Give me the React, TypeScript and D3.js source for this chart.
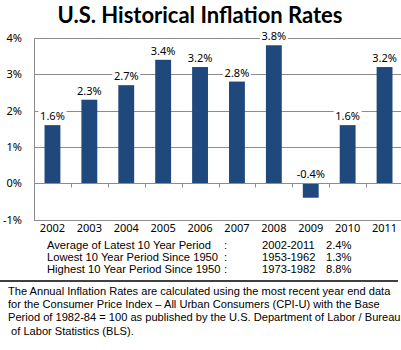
import React, { useEffect, useRef } from 'react';
import * as d3 from 'd3';

const years = ['2002', '2003', '2004', '2005', '2006', '2007', '2008', '2009', '2010', '2011'];
const rates = [1.6, 2.3, 2.7, 3.4, 3.2, 2.8, 3.8, -0.4, 1.6, 3.2];
const yTicks = [-1, 0, 1, 2, 3, 4];

const statLabels = [
  'Average of Latest 10 Year Period',
  'Lowest 10 Year Period Since 1950',
  'Highest 10 Year Period Since 1950',
];
const statPeriods = ['2002-2011', '1953-1962', '1973-1982'];
const statValues = ['2.4%', '1.3%', '8.8%'];

const footerLines = [
  'The Annual Inflation Rates are calculated using the most recent year end data',
  'for the Consumer Price Index \u2013 All Urban Consumers (CPI-U) with the Base',
  'Period of 1982-84 = 100 as published by the U.S. Department of Labor / Bureau',
  ' of Labor Statistics (BLS).',
];

const App = () => {
  const svgRef = useRef<SVGSVGElement>(null);

  useEffect(() => {
    const svg = d3.select(svgRef.current);
    svg.selectAll('*').remove();

    const width = 401;
    const height = 350;
    const left = 34;
    const right = 403;
    const top = 38;
    const bottom = 219.5;
    const barColor = '#1F497D';
    const gridColor = '#8c8c8c';
    const tickFont = '"Noto Sans", "DejaVu Sans", sans-serif';
    const arial = '"Liberation Sans", Arial, sans-serif';

    svg.append('rect').attr('width', width).attr('height', height).attr('fill', '#fff');

    // title
    svg.append('text')
      .attr('x', 200)
      .attr('y', 23)
      .attr('text-anchor', 'middle')
      .style('font-family', 'Lato, "Open Sans", sans-serif')
      .style('font-weight', 'bold')
      .style('font-size', '22px')
      .attr('fill', '#000')
      .text('U.S. Historical Inflation Rates');

    const x = d3.scaleBand<string>()
      .domain(years)
      .range([left, right])
      .paddingInner(0.57)
      .paddingOuter(0.285);

    const y = d3.scaleLinear().domain([-1, 4]).range([bottom, top]);

    // gridlines
    svg.append('g')
      .selectAll('line')
      .data(yTicks.filter(t => t !== 0))
      .enter().append('line')
      .attr('x1', left)
      .attr('x2', width)
      .attr('y1', d => Math.round(y(d)) + 0.5)
      .attr('y2', d => Math.round(y(d)) + 0.5)
      .attr('stroke', gridColor)
      .attr('stroke-width', 1);

    // y axis labels
    svg.append('g')
      .selectAll('text')
      .data(yTicks)
      .enter().append('text')
      .attr('x', 22)
      .attr('y', d => y(d) + 4)
      .attr('text-anchor', 'end')
      .style('font-family', tickFont)
      .style('font-size', '11px')
      .attr('fill', '#000')
      .text(d => `${d}%`);

    // bars
    svg.append('g')
      .selectAll('rect')
      .data(rates)
      .enter().append('rect')
      .attr('x', (d, i) => x(years[i])!)
      .attr('y', d => y(Math.max(0, d)))
      .attr('width', x.bandwidth())
      .attr('height', d => Math.abs(y(d) - y(0)))
      .attr('fill', barColor);

    // y axis line
    svg.append('line')
      .attr('x1', left + 0.5).attr('x2', left + 0.5)
      .attr('y1', top).attr('y2', Math.round(bottom) + 0.5)
      .attr('stroke', gridColor);

    // zero axis with ticks
    const y0 = Math.round(y(0)) + 0.5;
    svg.append('line')
      .attr('x1', left).attr('x2', width)
      .attr('y1', y0).attr('y2', y0)
      .attr('stroke', gridColor);
    const step = x.step();
    svg.append('g')
      .selectAll('line')
      .data(years.slice(1))
      .enter().append('line')
      .attr('x1', (d, i) => Math.round(left + step * (i + 1)) + 0.5)
      .attr('x2', (d, i) => Math.round(left + step * (i + 1)) + 0.5)
      .attr('y1', y0)
      .attr('y2', y0 + 4)
      .attr('stroke', gridColor);

    // data labels
    const labels = svg.append('g')
      .selectAll('g')
      .data(rates)
      .enter().append('g')
      .attr('transform', (d, i) =>
        `translate(${x(years[i])! + x.bandwidth() / 2},${y(Math.max(0, d)) - 5})`);
    labels.append('rect')
      .attr('x', -14)
      .attr('y', -10)
      .attr('width', 28)
      .attr('height', 13)
      .attr('fill', '#fff');
    labels.append('text')
      .attr('text-anchor', 'middle')
      .style('font-family', tickFont)
      .style('font-size', '11px')
      .attr('fill', '#000')
      .text(d => `${d.toFixed(1)}%`);

    // category labels
    svg.append('g')
      .selectAll('text')
      .data(years)
      .enter().append('text')
      .attr('x', d => x(d)! + x.bandwidth() / 2)
      .attr('y', 232)
      .attr('text-anchor', 'middle')
      .style('font-family', tickFont)
      .style('font-size', '11px')
      .attr('fill', '#000')
      .text(d => d);

    // stats table
    const rows = svg.append('g')
      .selectAll('g')
      .data(statLabels)
      .enter().append('g')
      .attr('transform', (d, i) => `translate(0,${249 + i * 12})`)
      .style('font-family', arial)
      .style('font-size', '11.2px')
      .attr('fill', '#000');
    rows.append('text').attr('x', 47).text(d => d);
    rows.append('text').attr('x', 224).text(':');
    rows.append('text').attr('x', 262).text((d, i) => statPeriods[i]);
    rows.append('text').attr('x', 326).text((d, i) => statValues[i]);

    // separator
    svg.append('line')
      .attr('x1', 0).attr('x2', 398)
      .attr('y1', 281).attr('y2', 281)
      .attr('stroke', '#000')
      .attr('stroke-width', 1.5);

    // footer note
    svg.append('g')
      .selectAll('text')
      .data(footerLines)
      .enter().append('text')
      .attr('x', 8)
      .attr('y', (d, i) => 295 + i * 13.2)
      .attr('xml:space', 'preserve')
      .style('white-space', 'pre')
      .style('font-family', arial)
      .style('font-size', '11.1px')
      .attr('fill', '#000')
      .text(d => d);
  }, []);

  return (
    <svg
      ref={svgRef}
      width="401"
      height="350"
      style={{ position: 'absolute', left: 0, top: 0 }}
    ></svg>
  );
};

export default App;
